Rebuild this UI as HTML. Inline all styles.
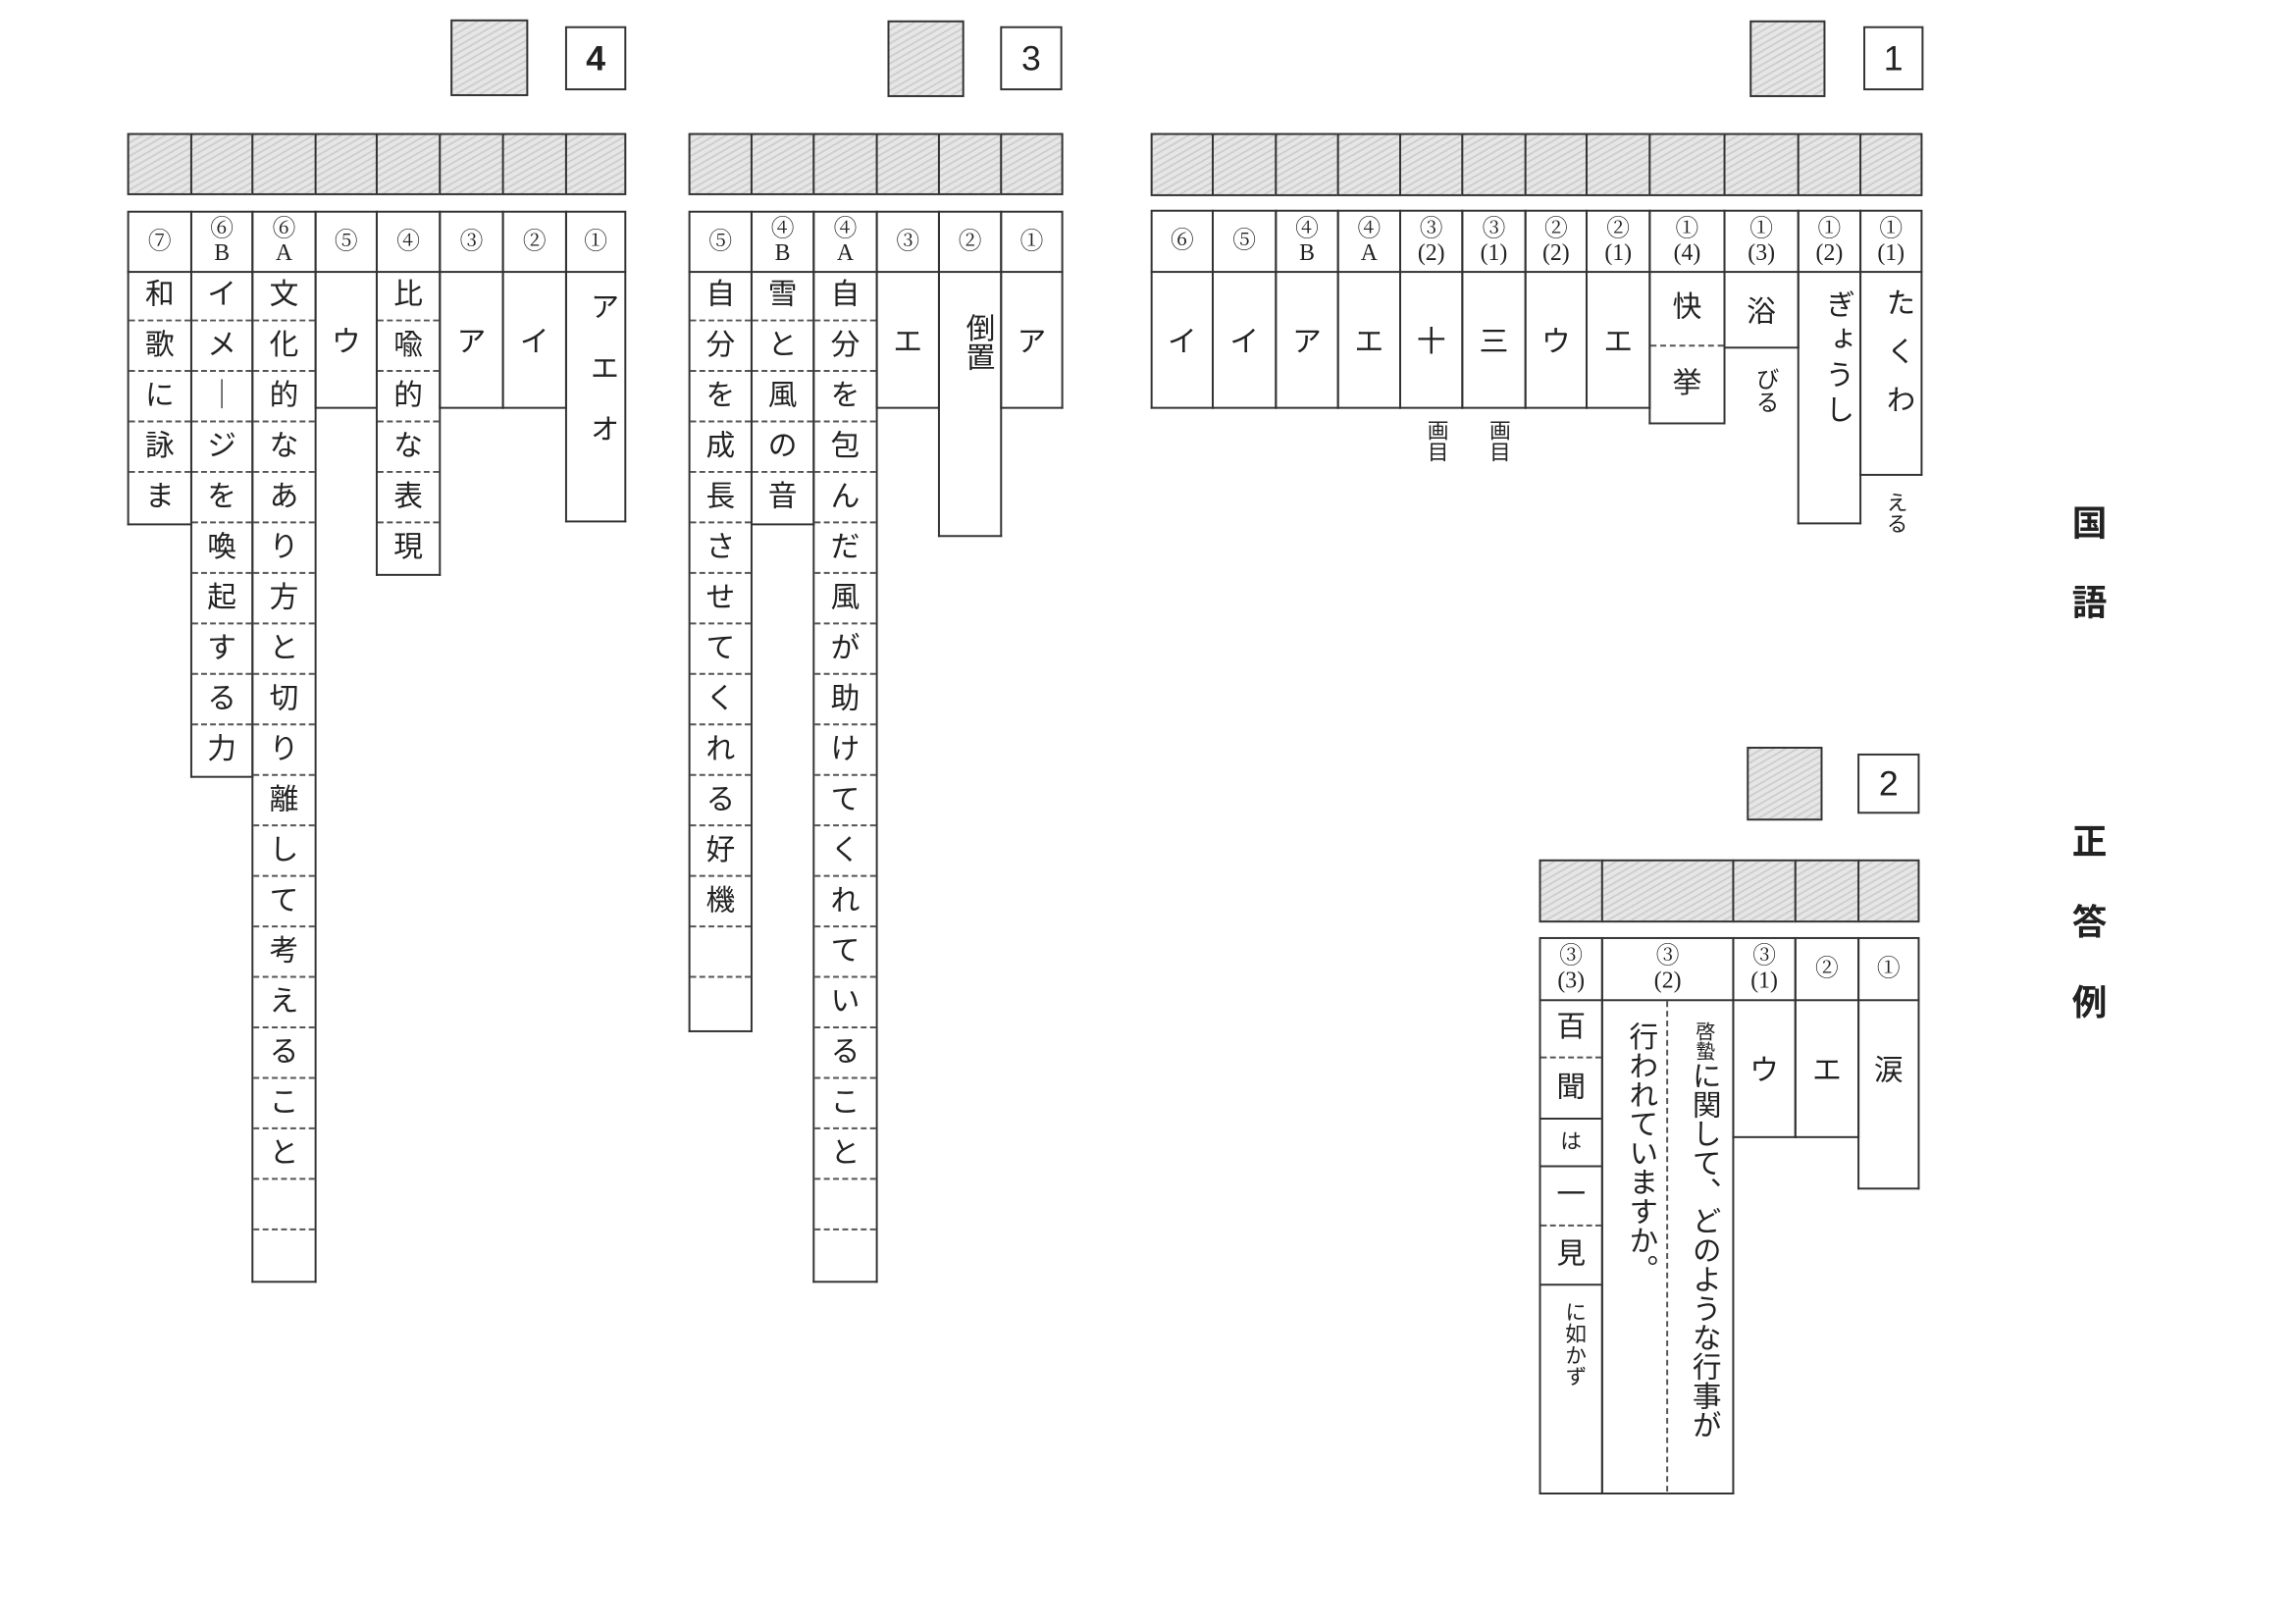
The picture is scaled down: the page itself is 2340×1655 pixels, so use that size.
<!DOCTYPE html>
<html><head><meta charset="utf-8">
<style>
body{margin:0;width:2340px;height:1654px;background:#fff;position:relative;overflow:hidden;font-family:"Liberation Serif","Noto Serif CJK SC","Noto Sans CJK JP",serif;color:#222}
#w{position:absolute;left:0;top:0;width:2364px;height:1672px;transform:scale(0.9896);transform-origin:0 0}
.g{position:absolute;border:2px solid #333;box-sizing:border-box;background:#dadada repeating-linear-gradient(150deg,#cfcfcf 0 2px,#e6e6e6 2px 6px)}
.n{position:absolute;border:2px solid #333;box-sizing:border-box;font-family:"Liberation Sans",sans-serif;font-size:36px;text-align:center}
.h{position:absolute;border:2px solid #333;box-sizing:border-box;text-align:center;font-size:24px;line-height:25px;display:flex;align-items:center;justify-content:center}
.c{position:absolute;border:2px solid #333;border-top:none;box-sizing:border-box;background:transparent;font-family:"Liberation Sans","Noto Sans CJK JP",sans-serif}
.c div{height:52px;border-bottom:2px dashed #555;box-sizing:border-box;text-align:center;font-size:30px;line-height:50px}
.c div:last-child{border-bottom:none}
.s{display:flex;align-items:center;justify-content:center;font-size:30px}
.v{writing-mode:vertical-rl;position:absolute;font-size:30px;font-family:"Liberation Sans","Noto Sans CJK JP",sans-serif}
.t{position:absolute;font-family:"Liberation Sans","Noto Sans CJK JP",sans-serif;font-weight:bold;font-size:36px}
</style></head><body>
<div id="w">
<!-- Section 4 -->
<div class="g" style="left:464px;top:20px;width:80px;height:79px"></div>
<div class="n" style="left:582px;top:27px;width:63px;height:66px;line-height:62px;font-weight:bold">4</div>
<div class="g" style="left:131px;top:137px;width:67px;height:64px"></div>
<div class="g" style="left:196px;top:137px;width:65px;height:64px"></div>
<div class="g" style="left:259px;top:137px;width:67px;height:64px"></div>
<div class="g" style="left:324px;top:137px;width:65px;height:64px"></div>
<div class="g" style="left:387px;top:137px;width:67px;height:64px"></div>
<div class="g" style="left:452px;top:137px;width:67px;height:64px"></div>
<div class="g" style="left:517px;top:137px;width:67px;height:64px"></div>
<div class="g" style="left:582px;top:137px;width:63px;height:64px"></div>
<div class="h" style="left:131px;top:217px;width:67px;height:64px">⑦</div>
<div class="h" style="left:196px;top:217px;width:65px;height:64px">⑥<br>B</div>
<div class="h" style="left:259px;top:217px;width:67px;height:64px">⑥<br>A</div>
<div class="h" style="left:324px;top:217px;width:65px;height:64px">⑤</div>
<div class="h" style="left:387px;top:217px;width:67px;height:64px">④</div>
<div class="h" style="left:452px;top:217px;width:67px;height:64px">③</div>
<div class="h" style="left:517px;top:217px;width:67px;height:64px">②</div>
<div class="h" style="left:582px;top:217px;width:63px;height:64px">①</div>
<div class="c" style="left:131px;top:279px;width:67px;height:262px"><div>和</div><div>歌</div><div>に</div><div>詠</div><div>ま</div></div>
<div class="c" style="left:196px;top:279px;width:65px;height:522px"><div>イ</div><div>メ</div><div>｜</div><div>ジ</div><div>を</div><div>喚</div><div>起</div><div>す</div><div>る</div><div>力</div></div>
<div class="c" style="left:259px;top:279px;width:67px;height:1042px"><div>文</div><div>化</div><div>的</div><div>な</div><div>あ</div><div>り</div><div>方</div><div>と</div><div>切</div><div>り</div><div>離</div><div>し</div><div>て</div><div>考</div><div>え</div><div>る</div><div>こ</div><div>と</div><div></div><div></div></div>
<div class="c s" style="left:324px;top:279px;width:65px;height:142px">ウ</div>
<div class="c" style="left:387px;top:279px;width:67px;height:314px"><div>比</div><div>喩</div><div>的</div><div>な</div><div>表</div><div>現</div></div>
<div class="c s" style="left:452px;top:279px;width:67px;height:142px">ア</div>
<div class="c s" style="left:517px;top:279px;width:67px;height:142px">イ</div>
<div class="c" style="left:582px;top:279px;width:63px;height:259px"></div>
<div class="v" style="left:597px;top:300px;letter-spacing:33px">アエオ</div>

<!-- Section 3 -->
<div class="g" style="left:914px;top:21px;width:79px;height:79px"></div>
<div class="n" style="left:1030px;top:27px;width:64px;height:66px;line-height:62px">3</div>
<div class="g" style="left:709px;top:137px;width:66px;height:64px"></div>
<div class="g" style="left:773px;top:137px;width:66px;height:64px"></div>
<div class="g" style="left:837px;top:137px;width:67px;height:64px"></div>
<div class="g" style="left:902px;top:137px;width:66px;height:64px"></div>
<div class="g" style="left:966px;top:137px;width:66px;height:64px"></div>
<div class="g" style="left:1030px;top:137px;width:65px;height:64px"></div>
<div class="h" style="left:709px;top:217px;width:66px;height:64px">⑤</div>
<div class="h" style="left:773px;top:217px;width:66px;height:64px">④<br>B</div>
<div class="h" style="left:837px;top:217px;width:67px;height:64px">④<br>A</div>
<div class="h" style="left:902px;top:217px;width:66px;height:64px">③</div>
<div class="h" style="left:966px;top:217px;width:66px;height:64px">②</div>
<div class="h" style="left:1030px;top:217px;width:65px;height:64px">①</div>
<div class="c" style="left:709px;top:279px;width:66px;height:784px"><div>自</div><div>分</div><div>を</div><div>成</div><div>長</div><div>さ</div><div>せ</div><div>て</div><div>く</div><div>れ</div><div>る</div><div>好</div><div>機</div><div></div><div></div></div>
<div class="c" style="left:773px;top:279px;width:66px;height:262px"><div>雪</div><div>と</div><div>風</div><div>の</div><div>音</div></div>
<div class="c" style="left:837px;top:279px;width:67px;height:1042px"><div>自</div><div>分</div><div>を</div><div>包</div><div>ん</div><div>だ</div><div>風</div><div>が</div><div>助</div><div>け</div><div>て</div><div>く</div><div>れ</div><div>て</div><div>い</div><div>る</div><div>こ</div><div>と</div><div></div><div></div></div>
<div class="c s" style="left:902px;top:279px;width:66px;height:142px">エ</div>
<div class="c" style="left:966px;top:279px;width:66px;height:274px"></div>
<div class="v" style="left:984px;top:322px;letter-spacing:0px">倒置</div>
<div class="c s" style="left:1030px;top:279px;width:65px;height:142px">ア</div>

<!-- Section 1 -->
<div class="g" style="left:1802px;top:21px;width:78px;height:79px"></div>
<div class="n" style="left:1919px;top:27px;width:62px;height:66px;line-height:62px">1</div>
<div class="g" style="left:1185px;top:137px;width:65px;height:65px"></div>
<div class="g" style="left:1248px;top:137px;width:67px;height:65px"></div>
<div class="g" style="left:1313px;top:137px;width:66px;height:65px"></div>
<div class="g" style="left:1377px;top:137px;width:66px;height:65px"></div>
<div class="g" style="left:1441px;top:137px;width:66px;height:65px"></div>
<div class="g" style="left:1505px;top:137px;width:67px;height:65px"></div>
<div class="g" style="left:1570px;top:137px;width:65px;height:65px"></div>
<div class="g" style="left:1633px;top:137px;width:67px;height:65px"></div>
<div class="g" style="left:1698px;top:137px;width:79px;height:65px"></div>
<div class="g" style="left:1775px;top:137px;width:78px;height:65px"></div>
<div class="g" style="left:1851px;top:137px;width:66px;height:65px"></div>
<div class="g" style="left:1915px;top:137px;width:65px;height:65px"></div>
<div class="h" style="left:1185px;top:216px;width:65px;height:65px">⑥</div>
<div class="h" style="left:1248px;top:216px;width:67px;height:65px">⑤</div>
<div class="h" style="left:1313px;top:216px;width:66px;height:65px">④<br>B</div>
<div class="h" style="left:1377px;top:216px;width:66px;height:65px">④<br>A</div>
<div class="h" style="left:1441px;top:216px;width:66px;height:65px">③<br>(2)</div>
<div class="h" style="left:1505px;top:216px;width:67px;height:65px">③<br>(1)</div>
<div class="h" style="left:1570px;top:216px;width:65px;height:65px">②<br>(2)</div>
<div class="h" style="left:1633px;top:216px;width:67px;height:65px">②<br>(1)</div>
<div class="h" style="left:1698px;top:216px;width:79px;height:65px">①<br>(4)</div>
<div class="h" style="left:1775px;top:216px;width:78px;height:65px">①<br>(3)</div>
<div class="h" style="left:1851px;top:216px;width:66px;height:65px">①<br>(2)</div>
<div class="h" style="left:1915px;top:216px;width:65px;height:65px">①<br>(1)</div>
<div class="c s" style="left:1185px;top:279px;width:65px;height:142px">イ</div>
<div class="c s" style="left:1248px;top:279px;width:67px;height:142px">イ</div>
<div class="c s" style="left:1313px;top:279px;width:66px;height:142px">ア</div>
<div class="c s" style="left:1377px;top:279px;width:66px;height:142px">エ</div>
<div class="c s" style="left:1441px;top:279px;width:66px;height:142px">十</div>
<div class="c s" style="left:1505px;top:279px;width:67px;height:142px">三</div>
<div class="c s" style="left:1570px;top:279px;width:65px;height:142px">ウ</div>
<div class="c s" style="left:1633px;top:279px;width:67px;height:142px">エ</div>
<div class="c" style="left:1698px;top:279px;width:79px;height:158px"><div style="height:78px;line-height:76px">快</div><div style="height:78px;line-height:76px">挙</div></div>
<div class="c s" style="left:1775px;top:279px;width:78px;height:80px">浴</div>
<div class="v" style="left:1800px;top:378px;font-size:24px">びる</div>
<div class="c" style="left:1851px;top:279px;width:66px;height:261px"></div>
<div class="v" style="left:1869px;top:298px;letter-spacing:6px">ぎょうし</div>
<div class="c" style="left:1915px;top:279px;width:65px;height:211px"></div>
<div class="v" style="left:1932px;top:296px;letter-spacing:20px">たくわ</div>
<div class="v" style="left:1936px;top:506px;font-size:22px">える</div>
<div class="v" style="left:1463px;top:432px;font-size:22px">画目</div>
<div class="v" style="left:1527px;top:432px;font-size:22px">画目</div>

<!-- Section 2 -->
<div class="g" style="left:1799px;top:769px;width:78px;height:76px"></div>
<div class="n" style="left:1913px;top:776px;width:64px;height:62px;line-height:58px">2</div>
<div class="g" style="left:1585px;top:885px;width:66px;height:65px"></div>
<div class="g" style="left:1649px;top:885px;width:137px;height:65px"></div>
<div class="g" style="left:1784px;top:885px;width:66px;height:65px"></div>
<div class="g" style="left:1848px;top:885px;width:67px;height:65px"></div>
<div class="g" style="left:1913px;top:885px;width:64px;height:65px"></div>
<div class="h" style="left:1585px;top:965px;width:66px;height:66px">③<br>(3)</div>
<div class="h" style="left:1649px;top:965px;width:137px;height:66px">③<br>(2)</div>
<div class="h" style="left:1784px;top:965px;width:66px;height:66px">③<br>(1)</div>
<div class="h" style="left:1848px;top:965px;width:67px;height:66px">②</div>
<div class="h" style="left:1913px;top:965px;width:64px;height:66px">①</div>
<div class="c" style="left:1585px;top:1029px;width:66px;height:510px">
<div style="height:61px;line-height:58px">百</div>
<div style="height:63px;line-height:60px;border-bottom:2px solid #333">聞</div>
<div style="height:49px;line-height:46px;border-bottom:2px solid #333;font-size:22px">は</div>
<div style="height:61px;line-height:58px">一</div>
<div style="height:61px;line-height:58px;border-bottom:2px solid #333">見</div>
<div style="height:210px"></div>
</div>
<div class="v" style="left:1605px;top:1340px;font-size:22px">に如かず</div>
<div class="c" style="left:1649px;top:1029px;width:137px;height:510px"></div>
<div style="position:absolute;left:1716px;top:1031px;height:505px;border-left:2px dashed #555"></div>
<div class="v" style="left:1732px;top:1052px;font-size:30px"><span style="font-size:20px">啓蟄</span>に関して、どのような行事が</div>
<div class="v" style="left:1667px;top:1052px;font-size:30px">行われていますか。</div>
<div class="c s" style="left:1784px;top:1029px;width:66px;height:143px;align-items:flex-start;padding-top:48px">ウ</div>
<div class="c s" style="left:1848px;top:1029px;width:67px;height:143px;align-items:flex-start;padding-top:48px">エ</div>
<div class="c s" style="left:1913px;top:1029px;width:64px;height:196px;align-items:flex-start;padding-top:48px">涙</div>

<!-- Title -->
<div class="t" style="left:2134px;top:510px">国</div>
<div class="t" style="left:2134px;top:592px">語</div>
<div class="t" style="left:2134px;top:838px">正</div>
<div class="t" style="left:2134px;top:921px">答</div>
<div class="t" style="left:2134px;top:1004px">例</div>
</div>
</body></html>
